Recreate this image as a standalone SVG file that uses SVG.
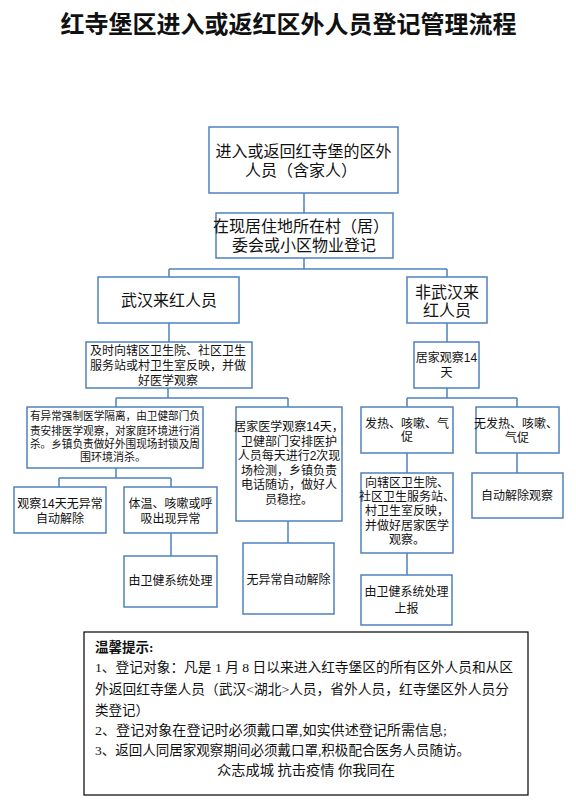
<svg xmlns="http://www.w3.org/2000/svg" width="576" height="808" viewBox="0 0 576 808">
<style>
.bx{fill:#fff;stroke:#4f81bd;stroke-width:1.5}
.ln{fill:none;stroke:#4f81bd;stroke-width:1.5}
text{font-family:"Liberation Sans","Noto Sans CJK SC",sans-serif;fill:#111;text-anchor:middle}
.t16{font-size:16px}
.t12{font-size:12px}
.t11{font-size:11px}
.note{font-size:13.5px;text-anchor:start;font-family:"Liberation Serif","Noto Sans CJK SC",serif}
</style>
<rect width="576" height="808" fill="#fff"/>
<text x="288.5" y="33" style="font-size:24px;font-weight:bold;font-family:'Liberation Serif','Noto Sans CJK SC',serif">红寺堡区进入或返红区外人员登记管理流程</text>

<g id="connectors">
<path class="ln" d="M304,193V213M304,258V269M169,269H447M169,269V277M447,269V277"/>
<path class="ln" d="M169,323V342M447,323V342"/>
<path class="ln" d="M168,388V398M116,398H288M116,398V407M288,398V407"/>
<path class="ln" d="M447,388V398M407,398H517M407,398V407M517,398V407"/>
<path class="ln" d="M116,468V478M59,478H171M59,478V487M171,478V487"/>
<path class="ln" d="M171,533V556M288,521V543M407,453V473M517,453V473M407,553V575"/>
</g>

<g id="n1"><rect class="bx" x="209" y="127" width="189" height="66"/>
<text class="t16" x="303.5" y="157">进入或返回红寺堡的区外</text>
<text class="t16" x="301" y="176">人员（含家人）</text></g>

<g id="n2"><rect class="bx" x="216" y="213" width="177" height="45"/>
<text class="t16" x="301" y="232">在现居住地所在村（居）</text>
<text class="t16" x="304" y="251">委会或小区物业登记</text></g>

<g id="n3"><rect class="bx" x="98" y="277" width="141" height="46"/>
<text class="t16" x="169" y="306">武汉来红人员</text></g>

<g id="n4"><rect class="bx" x="407" y="277" width="80" height="46"/>
<text class="t16" x="447" y="298">非武汉来</text>
<text class="t16" x="447" y="316">红人员</text></g>

<g id="n5"><rect class="bx" x="86" y="342" width="166" height="46"/>
<text class="t12" x="168" y="355">及时向辖区卫生院、社区卫生</text>
<text class="t12" x="168" y="369.5">服务站或村卫生室反映，并做</text>
<text class="t12" x="168" y="384.5">好医学观察</text></g>

<g id="n6"><rect class="bx" x="414" y="342" width="65" height="46"/>
<text class="t12" x="446.5" y="361.5">居家观察14</text>
<text class="t12" x="446.5" y="376.5">天</text></g>

<g id="n7"><rect class="bx" x="27" y="407" width="176" height="61"/>
<text class="t11" x="115" y="420" textLength="170" lengthAdjust="spacingAndGlyphs">有异常强制医学隔离，由卫健部门负</text>
<text class="t11" x="115" y="434.5" textLength="170" lengthAdjust="spacingAndGlyphs">责安排医学观察，对家庭环境进行消</text>
<text class="t11" x="115" y="448" textLength="170" lengthAdjust="spacingAndGlyphs">杀。乡镇负责做好外围现场封锁及周</text>
<text class="t11" x="113" y="461">围环境消杀。</text></g>

<g id="n8"><rect class="bx" x="236" y="407" width="106" height="114"/>
<text class="t12" x="289" y="431">居家医学观察14天，</text>
<text class="t12" x="289" y="445.5">卫健部门安排医护</text>
<text class="t12" x="289" y="460">人员每天进行2次现</text>
<text class="t12" x="289" y="474.5">场检测，乡镇负责</text>
<text class="t12" x="289" y="489">电话随访，做好人</text>
<text class="t12" x="289" y="503.5">员稳控。</text></g>

<g id="n9"><rect class="bx" x="361" y="407" width="92" height="46"/>
<text class="t12" x="407" y="427.5">发热、咳嗽、气</text>
<text class="t12" x="407" y="441">促</text></g>

<g id="n10"><rect class="bx" x="476" y="407" width="83" height="46"/>
<text class="t12" x="516" y="427.5">无发热、咳嗽、</text>
<text class="t12" x="517" y="441.5">气促</text></g>

<g id="n11"><rect class="bx" x="14" y="487" width="92" height="46"/>
<text class="t12" x="60" y="507.5">观察14天无异常</text>
<text class="t12" x="60" y="522.5">自动解除</text></g>

<g id="n12"><rect class="bx" x="124" y="487" width="93" height="46"/>
<text class="t12" x="170.5" y="507.5">体温、咳嗽或呼</text>
<text class="t12" x="170.5" y="522.5">吸出现异常</text></g>

<g id="n13"><rect class="bx" x="361" y="473" width="92" height="80"/>
<text class="t12" x="407" y="486.5">向辖区卫生院、</text>
<text class="t12" x="407" y="500.5">社区卫生服务站、</text>
<text class="t12" x="407" y="514.5">村卫生室反映，</text>
<text class="t12" x="407" y="529.5">并做好居家医学</text>
<text class="t12" x="407" y="544">观察。</text></g>

<g id="n14"><rect class="bx" x="472" y="473" width="91" height="45"/>
<text class="t12" x="517" y="499.5">自动解除观察</text></g>

<g id="n15"><rect class="bx" x="124" y="556" width="93" height="51"/>
<text class="t12" x="170.5" y="584.5">由卫健系统处理</text></g>

<g id="n16"><rect class="bx" x="243" y="543" width="91" height="71"/>
<text class="t12" x="288.5" y="583.5">无异常自动解除</text></g>

<g id="n17"><rect class="bx" x="361" y="575" width="91" height="50"/>
<text class="t12" x="406.5" y="596">由卫健系统处理</text>
<text class="t12" x="406.5" y="612.5">上报</text></g>

<g id="notes">
<rect x="84" y="632" width="444" height="163" fill="#fff" stroke="#000" stroke-width="1.2"/>
<text class="note" x="95" y="652" style="font-weight:bold">温馨提示:</text>
<text class="note" x="95" y="672" textLength="418" lengthAdjust="spacingAndGlyphs">1、登记对象：凡是 1 月 8 日以来进入红寺堡区的所有区外人员和从区</text>
<text class="note" x="95" y="694" textLength="414" lengthAdjust="spacingAndGlyphs">外返回红寺堡人员（武汉&lt;湖北&gt;人员，省外人员，红寺堡区外人员分</text>
<text class="note" x="95" y="715">类登记）</text>
<text class="note" x="95" y="735" textLength="352" lengthAdjust="spacingAndGlyphs">2、登记对象在登记时必须戴口罩,如实供述登记所需信息;</text>
<text class="note" x="95" y="755" textLength="375" lengthAdjust="spacingAndGlyphs">3、返回人同居家观察期间必须戴口罩,积极配合医务人员随访。</text>
<text class="note" x="217" y="775" textLength="178" lengthAdjust="spacingAndGlyphs">众志成城 抗击疫情 你我同在</text>
</g>
</svg>
